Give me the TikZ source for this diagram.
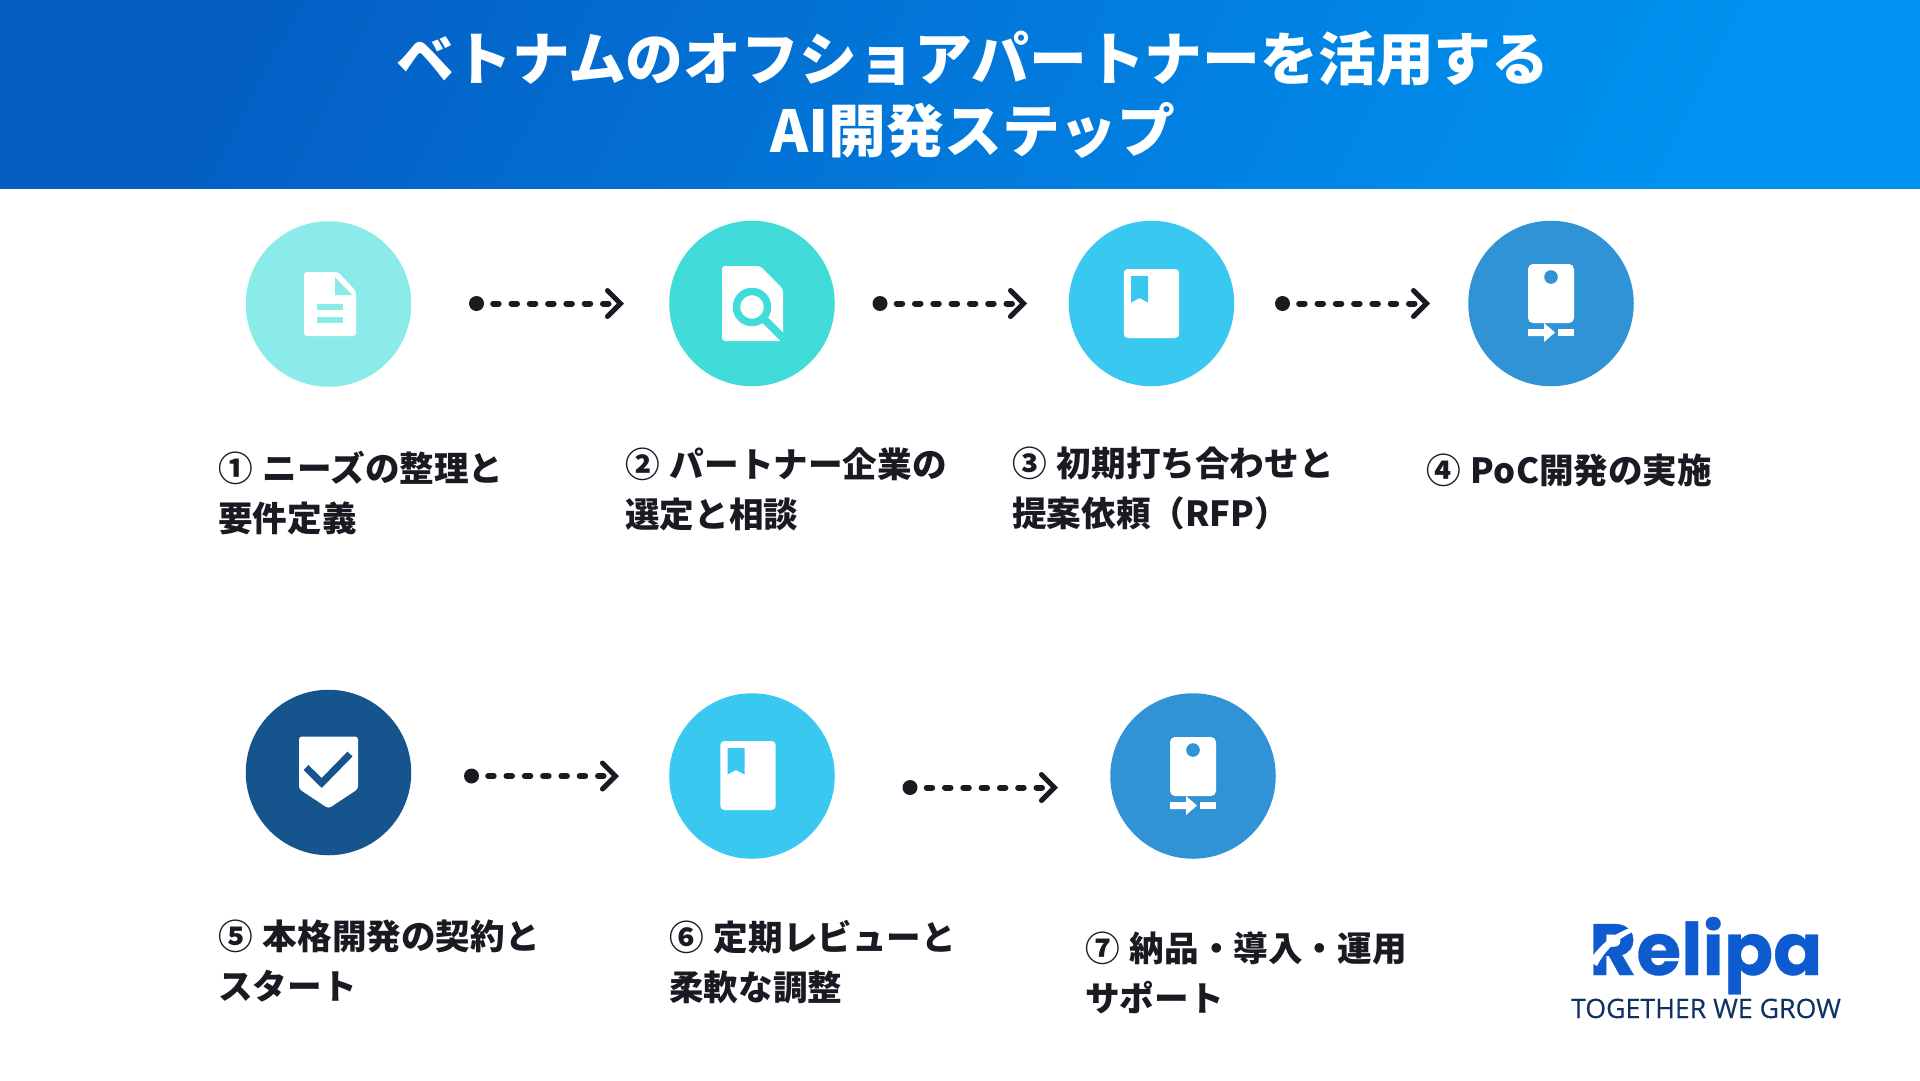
\documentclass[tikz,border=0pt]{standalone}
\usepackage{fontspec}
\setmainfont{Noto Sans CJK JP}
\newfontfamily\logofont[FakeBold=0.4]{Poppins}
\newfontfamily\tagfont[FakeBold=0.25]{Open Sans}
\usetikzlibrary{arrows.meta,positioning}
\definecolor{barleft}{HTML}{045EC4}
\definecolor{barright}{HTML}{0092F0}
\definecolor{inkdark}{HTML}{1A1A22}
\definecolor{stepa}{HTML}{8BEBE8}
\definecolor{stepb}{HTML}{41DBD9}
\definecolor{stepc}{HTML}{39C9F0}
\definecolor{stepd}{HTML}{2F93D6}
\definecolor{stepe}{HTML}{15548C}
\definecolor{logoblue}{HTML}{0E5BD0}
\definecolor{tagblue}{HTML}{0F3263}
\tikzset{
  stepdisc/.style={circle,minimum size=165.5pt,inner sep=0pt},
  startdot/.style={circle,fill=inkdark,minimum size=15pt,inner sep=0pt},
  flowline/.style={inkdark,line width=6pt,line cap=round,dash pattern=on 5.5pt off 12.8pt,dash phase=9.3pt,
    -{Straight Barb[length=13pt,width=26pt,line width=5pt,line cap=round]}},
  steplabel/.style={anchor=north west,align=left,inkdark,font=\fontsize{34.6}{50}\selectfont\bfseries,inner sep=0pt},
  headline/.style={white,align=center,font=\fontsize{57.8}{72}\selectfont\bfseries,inner sep=0pt}
}
\newcommand{\stepgap}{\hspace{10.2pt}}
% one icon per shape, drawn around the disc centre
\newcommand{\pageicon}[2]{
  \fill[white,rounded corners=3pt,shift={(#1)}] (-26,-32) -- (8,-32) -- (26,-13) -- (26,32) -- (-26,32) -- cycle;
  \fill[#2,shift={(#1)}] (5,-27) -- (22,-9) -- (5,-9) -- cycle;
  \fill[#2,shift={(#1)}] (-13,0) rectangle (13,6);
  \fill[#2,shift={(#1)}] (-13,13) rectangle (13,19);
}
\newcommand{\bookicon}[2]{
  \fill[white,rounded corners=4pt,shift={(#1)}] (-27.7,-34.5) rectangle (27.7,34.5);
  \fill[#2,shift={(#1)}] (-20.5,-27.5) -- (-3.5,-27.5) -- (-3.5,-1) -- (-12,-5.5) -- (-20.5,-1) -- cycle;
}
\newcommand{\cardicon}[2]{
  \fill[white,rounded corners=5pt,shift={(#1)}] (-23,-39) rectangle (23,20);
  \fill[#2,shift={(#1)}] (0,-26) circle (6.8);
  \fill[white,shift={(#1)}] (-23,26) -- (-7,26) -- (-7,20) -- (4,29.5) -- (-7,39) -- (-7,33) -- (-23,33) -- cycle;
  \fill[white,shift={(#1)}] (7,26) rectangle (23,33);
}
\begin{document}
\begin{tikzpicture}[x=1pt,y=-1pt]
  \useasboundingbox (0,0) rectangle (1920,1080);
  \fill[white] (0,0) rectangle (1920,1080);
  \shade[left color=barleft,right color=barright,shading angle=63] (0,0) rectangle (1920,188.5);
  \node[headline] (title) at (973,94.5) {ベトナムのオフショアパートナーを活用する\\AI開発ステップ};

  % discs
  \node[stepdisc,fill=stepa] (disc1) at (328.5,304) {};
  \node[stepdisc,fill=stepb] (disc2) at (752,303.5) {};
  \node[stepdisc,fill=stepc] (disc3) at (1151.5,303.5) {};
  \node[stepdisc,fill=stepd] (disc4) at (1551,303.5) {};
  \node[stepdisc,fill=stepe] (disc5) at (328.5,772.5) {};
  \node[stepdisc,fill=stepc] (disc6) at (752,776) {};
  \node[stepdisc,fill=stepd] (disc7) at (1193,776) {};

  % icons
  \pageicon{330,304}{stepa}
  \fill[white,rounded corners=3pt] (722,266) -- (760,266) -- (783,289) -- (783,341) -- (722,341) -- cycle;
  \draw[stepb,line width=7.5pt] (752,307) circle (15.5);
  \draw[stepb,line width=7.5pt] (763,318) -- (785,340);
  \bookicon{1151.5,303.5}{stepc}
  \cardicon{1551,303}{stepd}
  \fill[white,rounded corners=3pt] (299,736.5) -- (358,736.5) -- (358,789) -- (328.5,808.5) -- (299,789) -- cycle;
  \draw[stepe,line width=7pt] (306,767.5) -- (321.7,783) -- (350,754);
  \bookicon{748,775.5}{stepc}
  \cardicon{1193,776}{stepd}

  % flow
  \node[startdot] (from1) at (476.5,303.5) {};
  \node[startdot] (from2) at (880,303.5) {};
  \node[startdot] (from3) at (1282.5,303.5) {};
  \node[startdot] (from4) at (471.5,776) {};
  \node[startdot] (from5) at (910,787.5) {};
  \coordinate (to1) at (624,303.5);
  \coordinate (to2) at (1027,303.5);
  \coordinate (to3) at (1430,303.5);
  \coordinate (to4) at (619,776);
  \coordinate (to5) at (1058,787.5);
  \foreach \i in {1,...,5}
    \draw[flowline] (from\i) -- (to\i);

  % labels
  \node[steplabel] (label1) at (218,451) {①\stepgap{}ニーズの整理と\\要件定義};
  \node[steplabel] (label2) at (625,447) {②\stepgap{}パートナー企業の\\選定と相談};
  \node[steplabel] (label3) at (1012,447) {③\stepgap{}初期打ち合わせと\\提案依頼（RFP）};
  \node[steplabel] (label4) at (1426,454) {④\stepgap{}PoC開発の実施};
  \node[steplabel] (label5) at (218,920) {⑤\stepgap{}本格開発の契約と\\スタート};
  \node[steplabel] (label6) at (669,920) {⑥\stepgap{}定期レビューと\\柔軟な調整};
  \node[steplabel] (label7) at (1085,932) {⑦\stepgap{}納品・導入・運用\\サポート};

  % logo
  \node[logoblue,anchor=base west,inner sep=0pt,font=\logofont\bfseries\fontsize{72.5}{72}\selectfont] (logo) at (1589,975) {Relipa};
  \fill[white] (1589,961) .. controls (1602,942) and (1616,932) .. (1636,926) -- (1637,930) .. controls (1620,937) and (1606,948) .. (1597,966) -- cycle;
  \node[tagblue,anchor=base,inner sep=0pt,font=\tagfont\fontsize{26.7}{27}\selectfont] (tagline) at (1706,1018) {TOGETHER WE GROW};
\end{tikzpicture}
\end{document}
